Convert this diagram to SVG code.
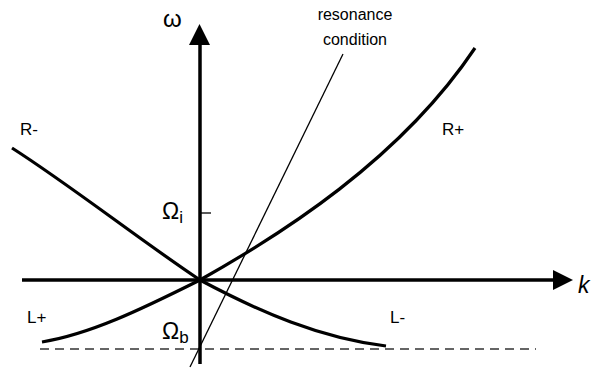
<svg xmlns="http://www.w3.org/2000/svg" width="592" height="369" viewBox="0 0 592 369">
<style>
text{font-family:"Liberation Sans",Arial,sans-serif;fill:#000}
.lbl{font-size:17px}
.res{font-size:16px}
.axis{stroke:#000;stroke-width:3.5;fill:none}
.curve{stroke:#000;stroke-width:3.2;fill:none}
.thin{stroke:#000;stroke-width:1.3;fill:none}
.dash{stroke:#333;stroke-width:1.4;stroke-dasharray:9 6;fill:none}
</style>
<rect width="592" height="369" fill="#fff"/>
<g id="connectors">
<line class="dash" x1="40" y1="349" x2="536" y2="349"/>
<line class="axis" x1="22" y1="280" x2="555" y2="280"/>
<polygon points="553,270 573,280 553,290" fill="#000"/>
<line class="axis" x1="200" y1="364" x2="200" y2="43"/>
<polygon points="189,45 199.5,24 210,45" fill="#000"/>
<line class="thin" x1="200" y1="213" x2="211" y2="213"/>
<line class="thin" x1="190" y1="367" x2="343" y2="54"/>
</g>
<g id="R-plus"><path class="curve" d="M200,280 C280,235 400,160 475,48"/><text class="lbl" x="442" y="135">R+</text></g>
<g id="R-minus"><path class="curve" d="M12,148 C70,185 140,240 200,280"/><text class="lbl" x="20" y="135">R-</text></g>
<g id="L-plus"><path class="curve" d="M200,280 C140,310 90,334 42,342"/><text class="lbl" x="27" y="323">L+</text></g>
<g id="L-minus"><path class="curve" d="M200,280 C260,312 320,338 386,346"/><text class="lbl" x="390" y="323">L-</text></g>
<g id="omega-label"><text x="163" y="27" font-size="24">ω</text></g>
<g id="k-label"><text x="578" y="293" font-size="23" font-style="italic">k</text></g>
<g id="Omega-i"><text x="162" y="219" font-size="23">Ω<tspan font-size="17" dy="4">i</tspan></text></g>
<g id="Omega-b"><text x="162" y="339" font-size="23">Ω<tspan font-size="17" dy="4">b</tspan></text></g>
<g id="resonance-label"><text class="res" x="355" y="20" text-anchor="middle">resonance</text><text class="res" x="355" y="45" text-anchor="middle">condition</text></g>
</svg>
